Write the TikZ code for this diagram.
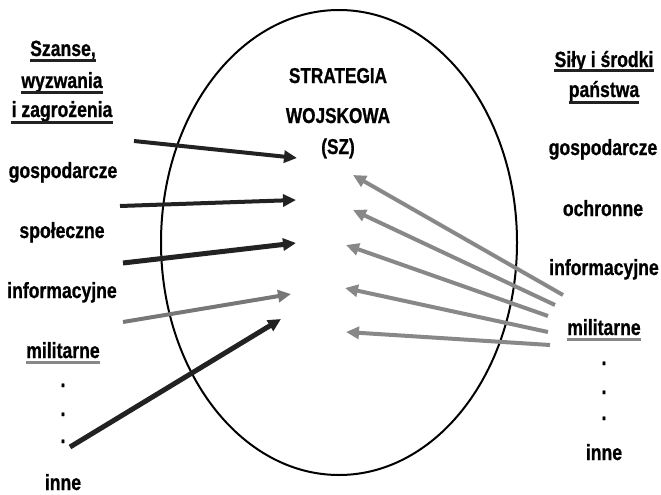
\documentclass[tikz,border=0pt]{standalone}
\usepackage{fontspec}
\newfontfamily\lab{Liberation Sans}[UprightFont={* Bold},FakeStretch=0.8,FakeBold=0.8]
\usetikzlibrary{arrows.meta}
\definecolor{dark}{HTML}{222222}
\definecolor{gA}{HTML}{777777}
\definecolor{gB}{HTML}{888888}
\begin{document}
\begin{tikzpicture}[x=1pt,y=-1pt,
  txt/.style={font=\lab\fontsize{22}{24}\selectfont, inner sep=0pt, anchor=base},
  ctr/.style={font=\lab\fontsize{21.5}{24}\selectfont, inner sep=0pt, anchor=base},
  ul/.style={line width=3pt, dark},
  ulg/.style={line width=3pt, gB},
  arr/.style={line width=4pt, -{Triangle[length=13pt,width=12pt]}},
  ]
\useasboundingbox (0,0) rectangle (661,495);
% ellipse
\draw[line width=2pt] (339,242.5) ellipse [x radius=178, y radius=232.5];
% centre title
\node[ctr] (t1) at (338,83) {STRATEGIA};
\node[ctr] (t2) at (338,123) {WOJSKOWA};
\node[ctr] (t3) at (338,154) {(SZ)};
% left column
\node[txt] (ls1) at (63,56) {Szanse,};
\node[txt] (ls2) at (62,88) {wyzwania};
\node[txt] (ls3) at (62,117) {i zagrożenia};
\draw[ul] ([yshift=-4.5pt]ls1.base west) -- ([yshift=-4.5pt]ls1.base east);
\draw[ul] ([yshift=-4.5pt]ls2.base west) -- ([yshift=-4.5pt]ls2.base east);
\draw[ul] ([yshift=-5.5pt]ls3.base west) -- ([yshift=-5.5pt]ls3.base east);
\node[txt] (lg) at (63,178) {gospodarcze};
\node[txt] (lsp) at (62,238) {społeczne};
\node[txt] (li) at (62,298) {informacyjne};
\node[txt] (lm) at (63,358) {militarne};
\draw[ulg] ([yshift=-4.5pt]lm.base west) -- ([yshift=-4.5pt]lm.base east);
\node[txt] (ld1) at (63,387) {.};
\node[txt] (ld2) at (63,416) {.};
\node[txt] (ld3) at (63,443) {.};
\node[txt] (lin) at (63,490) {inne};
% right column
\node[txt] (rs1) at (604,67) {Siły i środki};
\node[txt] (rs2) at (604,97) {państwa};
\draw[ul] ([yshift=-3.5pt]rs1.base west) -- ([yshift=-3.5pt]rs1.base east);
\draw[ul] ([yshift=-5pt]rs2.base west) -- ([yshift=-5pt]rs2.base east);
\node[txt] (rg) at (603,155) {gospodarcze};
\node[txt] (ro) at (603,216) {ochronne};
\node[txt] (ri) at (604,275) {informacyjne};
\node[txt] (rm) at (604,335) {militarne};
\draw[ulg] ([yshift=-4.5pt]rm.base west) -- ([yshift=-4.5pt]rm.base east);
\node[txt] (rd1) at (604,365) {.};
\node[txt] (rd2) at (604,394) {.};
\node[txt] (rd3) at (604,420) {.};
\node[txt] (rin) at (604,460) {inne};
% left arrows
\coordinate (l1s) at (134,141); \coordinate (l1e) at (297,158);
\coordinate (l2s) at (120,206); \coordinate (l2e) at (296,200);
\coordinate (l3s) at (123,263); \coordinate (l3e) at (296,243);
\coordinate (l4s) at (123,322); \coordinate (l4e) at (291,294);
\coordinate (l5s) at (70,447);  \coordinate (l5e) at (281,319);
\draw[arr, dark] (l1s) -- (l1e);
\draw[arr, dark] (l2s) -- (l2e);
\draw[arr, dark, line width=5pt] (l3s) -- (l3e);
\draw[arr, gA] (l4s) -- (l4e);
\draw[arr, dark, line width=5pt] (l5s) -- (l5e);
% right arrows
\coordinate (r1s) at (563,295); \coordinate (r1e) at (353,175);
\coordinate (r2s) at (555,305); \coordinate (r2e) at (353,210);
\coordinate (r3s) at (548,316); \coordinate (r3e) at (346,245);
\coordinate (r4s) at (548,332); \coordinate (r4e) at (345,288);
\coordinate (r5s) at (550,345); \coordinate (r5e) at (346,332);
\foreach \i in {1,...,5}{\draw[arr, gB] (r\i s) -- (r\i e);}
\end{tikzpicture}
\end{document}
